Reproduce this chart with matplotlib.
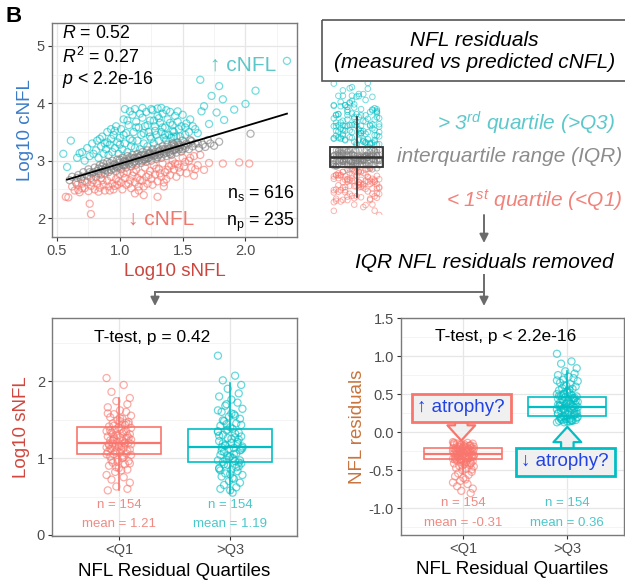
import numpy as np
import matplotlib
matplotlib.use("Agg")
import matplotlib.pyplot as plt
from matplotlib.patches import Rectangle, FancyArrowPatch
from matplotlib.ticker import MultipleLocator, FormatStrFormatter

plt.rcParams.update({
    'font.family': ['Liberation Sans', 'DejaVu Sans'],
    'mathtext.fontset': 'custom',
    'mathtext.rm': 'Liberation Sans',
    'mathtext.it': 'Liberation Sans:italic',
    'mathtext.bf': 'Liberation Sans:bold',
})

# ---- data ----
TEAL_X = [2.33, 1.64, 1.79, 2.08, 1.73, 1.82, 2.00, 1.91, 1.67, 1.77, 1.65, 1.71, 1.83, 0.61, 0.55, 0.58, 1.04, 1.30, 0.68,
          0.66, 0.70, 0.72, 0.74, 0.76, 0.78, 0.79,
          0.81, 0.82, 0.83, 0.85, 0.86, 0.87, 0.88, 0.89, 0.90,
          0.91, 0.92, 0.93, 0.94, 0.95, 0.96, 0.97, 0.98, 0.99, 1.00,
          1.01, 1.02, 1.03, 1.04, 1.05, 1.06, 1.07, 1.08, 1.09, 1.10,
          1.11, 1.12, 1.13, 1.14, 1.15, 1.16, 1.17, 1.18, 1.19, 1.20,
          1.21, 1.22, 1.23, 1.24, 1.25, 1.26, 1.27, 1.28, 1.29, 1.30,
          1.31, 1.32, 1.33, 1.34, 1.35, 1.36, 1.37, 1.38, 1.39, 1.40,
          1.41, 1.42, 1.43, 1.44, 1.45, 1.46, 1.47, 1.48, 1.50,
          1.52, 1.53, 1.55, 1.56, 1.58, 1.60, 1.62,
          0.84, 0.90, 0.96, 1.00, 1.03, 1.06, 1.10, 1.13, 1.16, 1.19, 1.22, 1.25, 1.28, 1.31, 1.34,
          1.37, 1.40, 1.43, 1.46, 1.49, 1.18, 1.24, 1.33, 1.42, 1.08, 0.93, 1.52, 1.36, 1.27, 1.12]
TEAL_Y = [4.74, 4.41, 4.30, 4.22, 4.13, 4.07, 3.99, 3.89, 3.95, 3.84, 3.86, 3.64, 3.71, 3.35, 3.12, 2.89, 3.90, 3.91, 3.13,
          3.05, 3.15, 3.00, 3.22, 3.08, 3.30, 3.12,
          3.18, 3.35, 3.05, 3.25, 3.42, 3.12, 3.30, 3.20, 3.50,
          3.10, 3.28, 3.38, 3.15, 3.45, 3.22, 3.60, 3.32, 3.12, 3.40,
          3.55, 3.20, 3.72, 3.30, 3.48, 3.15, 3.62, 3.38, 3.25, 3.80,
          3.50, 3.22, 3.68, 3.35, 3.58, 3.20, 3.45, 3.75, 3.30, 3.60,
          3.85, 3.25, 3.50, 3.70, 3.38, 3.88, 3.30, 3.60, 3.45, 3.78,
          3.35, 3.66, 3.50, 3.82, 3.40, 3.58, 3.36, 3.72, 3.45, 3.85,
          3.40, 3.62, 3.50, 3.78, 3.42, 3.68, 3.55, 3.42, 3.80,
          3.45, 3.65, 3.50, 3.72, 3.60, 3.55, 3.48,
          3.38, 3.32, 3.52, 3.28, 3.45, 3.70, 3.35, 3.58, 3.82, 3.48, 3.62, 3.90, 3.52, 3.74, 3.58,
          3.88, 3.66, 3.42, 3.86, 3.60, 3.92, 3.42, 3.92, 3.52, 3.86, 3.55, 3.58, 3.45, 3.70, 3.90]

GRAY_X = [0.60, 0.62, 0.65, 0.67, 0.69, 0.71, 0.72, 0.74, 0.75, 0.77, 0.78, 0.80, 0.81, 0.82, 0.84, 0.85, 0.86, 0.87,
          0.88, 0.89, 0.90, 0.91, 0.92, 0.93, 0.94, 0.95, 0.96, 0.97, 0.98, 0.99, 1.00, 1.01, 1.02, 1.03, 1.04, 1.05,
          1.06, 1.07, 1.08, 1.09, 1.10, 1.11, 1.12, 1.13, 1.14, 1.15, 1.16, 1.17, 1.18, 1.19, 1.20, 1.21, 1.22, 1.23,
          1.24, 1.25, 1.26, 1.27, 1.28, 1.29, 1.30, 1.31, 1.32, 1.33, 1.34, 1.35, 1.36, 1.37, 1.38, 1.39, 1.40, 1.41,
          1.42, 1.43, 1.44, 1.45, 1.46, 1.47, 1.48, 1.49, 1.50, 1.52, 1.53, 1.55, 1.57, 1.58, 1.60, 1.63, 1.66, 1.68,
          1.72, 1.75, 1.79, 2.04,
          0.83, 0.95, 1.05, 1.10, 1.15, 1.20, 1.25, 1.30, 1.35, 1.40, 1.45, 1.50, 0.88, 0.98, 1.08, 1.18, 1.28, 1.38,
          1.48, 0.76, 0.92, 1.02, 1.12, 1.22, 1.32, 1.42,
          0.70, 0.79, 0.86, 0.90, 0.97, 1.00, 1.04, 1.07, 1.11, 1.14, 1.17, 1.21, 1.24, 1.27, 1.31, 1.34, 1.37, 1.41,
          1.44, 1.47, 1.51, 1.54, 1.56, 1.62, 1.70, 0.66, 0.83, 1.03, 1.23, 1.43]
GRAY_Y = [2.66, 2.72, 2.62, 2.75, 2.68, 2.80, 2.65, 2.74, 2.85, 2.70, 2.78, 2.88, 2.72, 2.82, 2.92, 2.76, 2.85, 2.95,
          2.78, 2.88, 2.98, 2.80, 2.90, 2.84, 3.00, 2.86, 2.94, 2.82, 3.02, 2.90, 2.97, 2.85, 3.05, 2.92, 3.00, 2.88,
          3.08, 2.95, 3.02, 2.90, 3.10, 2.97, 3.05, 2.93, 3.12, 3.00, 3.08, 2.96, 3.15, 3.02, 3.10, 2.98, 3.18, 3.05,
          3.12, 3.00, 3.20, 3.08, 3.15, 3.03, 3.22, 3.10, 3.18, 3.05, 3.25, 3.12, 3.20, 3.08, 3.28, 3.15, 3.22, 3.10,
          3.30, 3.18, 3.25, 3.14, 3.32, 3.20, 3.27, 3.16, 3.35, 3.22, 3.30, 3.20, 3.34, 3.25, 3.30, 3.22, 3.28, 3.24,
          3.30, 3.26, 3.33, 3.47,
          2.86, 2.92, 2.98, 2.94, 3.05, 3.02, 3.10, 3.06, 3.16, 3.12, 3.22, 3.20, 2.84, 2.88, 3.06, 3.00, 3.10, 3.20,
          3.24, 2.80, 2.96, 2.93, 2.99, 3.04, 3.12, 3.18,
          2.72, 2.80, 2.90, 2.83, 2.90, 3.02, 2.93, 3.00, 3.04, 3.06, 3.10, 3.06, 3.14, 3.12, 3.16, 3.20, 3.14, 3.26,
          3.20, 3.28, 3.26, 3.28, 3.36, 3.30, 3.36, 2.70, 2.78, 2.98, 3.12, 3.28]

RED_X = [2.03, 1.95, 1.82, 1.71, 1.64, 1.59, 1.67, 0.59, 0.57, 0.76, 0.77, 1.30, 1.35, 1.12, 1.19, 0.67,
         0.62, 0.64, 0.66, 0.68, 0.70, 0.72, 0.74, 0.75, 0.77, 0.79, 0.80, 0.82, 0.84, 0.85, 0.87, 0.88, 0.90,
         0.91, 0.93, 0.94, 0.95, 0.97, 0.98, 1.00, 1.01, 1.02, 1.04, 1.05, 1.06, 1.08, 1.09, 1.10, 1.12, 1.13,
         1.14, 1.15, 1.17, 1.18, 1.20, 1.21, 1.22, 1.24, 1.25, 1.27, 1.28, 1.30, 1.31, 1.33, 1.34, 1.36, 1.37,
         1.39, 1.40, 1.42, 1.43, 1.45, 1.46, 1.48, 1.50, 1.51, 1.53, 1.55, 1.57, 1.59, 1.62,
         0.70, 0.78, 0.86, 0.92, 0.99, 1.03, 1.07, 1.11, 1.16, 1.19, 1.23, 1.26, 1.29, 1.32, 1.35, 1.38,
         1.41, 1.44, 1.47, 1.52, 1.56, 1.60, 0.83, 0.96, 1.15]
RED_Y = [2.95, 2.97, 2.95, 2.96, 3.10, 2.74, 2.84, 2.36, 2.37, 2.25, 2.07, 2.37, 2.55, 2.43, 2.40, 2.49,
         2.55, 2.48, 2.58, 2.45, 2.60, 2.52, 2.62, 2.47, 2.56, 2.66, 2.50, 2.60, 2.53, 2.70, 2.58, 2.48, 2.65,
         2.55, 2.72, 2.60, 2.50, 2.68, 2.58, 2.76, 2.62, 2.50, 2.70, 2.58, 2.80, 2.66, 2.52, 2.74, 2.62, 2.84,
         2.70, 2.55, 2.78, 2.65, 2.88, 2.72, 2.60, 2.82, 2.68, 2.92, 2.76, 2.64, 2.86, 2.72, 2.95, 2.80, 2.68,
         2.90, 2.75, 3.00, 2.85, 2.72, 2.94, 2.80, 3.05, 2.90, 2.78, 3.00, 2.88, 3.08, 2.92,
         2.52, 2.62, 2.66, 2.48, 2.64, 2.78, 2.60, 2.80, 2.66, 2.55, 2.75, 2.58, 2.86, 2.78, 2.62, 2.84,
         2.92, 2.95, 2.88, 2.98, 3.05, 2.85, 2.46, 2.56, 2.48]

FIT_X = [0.58, 2.33]
FIT_Y = [2.67, 3.82]

GROUPS = ['<Q1', '>Q3']

SNFL_Q1 = [2.04, 1.95, 1.86, 1.78, 1.74, 1.70, 1.66, 1.62, 1.60, 1.57, 1.55, 1.53, 1.51, 1.49, 1.47, 1.45, 1.43,
           1.41, 1.40, 1.38, 1.37, 1.35, 1.34, 1.33, 1.31, 1.30, 1.29, 1.28, 1.27, 1.26, 1.25, 1.24, 1.23, 1.22,
           1.21, 1.20, 1.19, 1.19, 1.18, 1.17, 1.16, 1.15, 1.14, 1.13, 1.12, 1.11, 1.10, 1.09, 1.08, 1.07, 1.06,
           1.05, 1.04, 1.02, 1.00, 0.98, 0.96, 0.94, 0.92, 0.90, 0.87, 0.84, 0.82, 0.78, 0.75, 0.72, 0.68, 0.63,
           0.60, 0.58,
           1.52, 1.46, 1.42, 1.39, 1.36, 1.32, 1.29, 1.26, 1.23, 1.20, 1.17, 1.14, 1.11, 1.08, 1.05, 1.01,
           0.97, 0.93, 0.88, 0.85, 1.58, 1.48, 1.35, 1.27, 1.18, 1.12, 1.03, 0.95, 1.44, 1.31]
SNFL_Q3 = [2.33, 2.07, 2.01, 1.95, 1.90, 1.84, 1.80, 1.76, 1.72, 1.68, 1.64, 1.60, 1.57, 1.54, 1.51, 1.48, 1.45,
           1.42, 1.40, 1.38, 1.36, 1.34, 1.32, 1.30, 1.28, 1.26, 1.24, 1.22, 1.20, 1.18, 1.16, 1.15, 1.14, 1.13,
           1.12, 1.10, 1.08, 1.06, 1.04, 1.02, 1.00, 0.98, 0.97, 0.96, 0.95, 0.93, 0.91, 0.89, 0.87, 0.85, 0.83,
           0.80, 0.78, 0.76, 0.73, 0.70, 0.68, 0.65, 0.62, 0.60, 0.58, 0.55,
           1.70, 1.62, 1.55, 1.49, 1.43, 1.37, 1.33, 1.29, 1.25, 1.21, 1.17, 1.13, 1.09, 1.05, 1.01, 0.97,
           0.92, 0.88, 0.84, 0.79, 0.74, 1.44, 1.35, 1.27, 1.19, 1.11, 1.03, 0.94, 0.86, 1.58]
# box stats: q1, median, q3, whisker low, whisker high
SNFL_BOX = [(1.05, 1.19, 1.40, 0.58, 1.78), (0.95, 1.15, 1.38, 0.55, 1.98)]
SNFL_N = [154, 154]
SNFL_MEAN = [1.21, 1.19]

RES_Q1 = [-0.13, -0.14, -0.15, -0.15, -0.16, -0.17, -0.17, -0.18, -0.18, -0.19, -0.19, -0.20, -0.20, -0.21, -0.21,
          -0.22, -0.22, -0.23, -0.23, -0.24, -0.24, -0.25, -0.25, -0.26, -0.26, -0.27, -0.27, -0.28, -0.28, -0.29,
          -0.29, -0.30, -0.30, -0.31, -0.31, -0.32, -0.32, -0.33, -0.33, -0.34, -0.34, -0.35, -0.35, -0.36, -0.37,
          -0.38, -0.39, -0.40, -0.41, -0.42, -0.43, -0.44, -0.45, -0.47, -0.48, -0.50, -0.52, -0.54, -0.56, -0.58,
          -0.60, -0.62, -0.64, -0.66, -0.68, -0.71, -0.74, -0.77, -0.80,
          -0.14, -0.16, -0.18, -0.20, -0.22, -0.24, -0.26, -0.28, -0.30, -0.32, -0.34, -0.36, -0.38, -0.40, -0.17,
          -0.21, -0.25, -0.29, -0.33, -0.37, -0.41, -0.15, -0.19, -0.23, -0.27, -0.31, -0.35, -0.39, -0.44, -0.49]
RES_Q3 = [1.03, 0.93, 0.90, 0.84, 0.80, 0.77, 0.75, 0.73, 0.71, 0.69, 0.67, 0.65, 0.63, 0.61, 0.60, 0.58, 0.57,
          0.55, 0.54, 0.52, 0.51, 0.50, 0.49, 0.48, 0.47, 0.46, 0.45, 0.44, 0.43, 0.42, 0.41, 0.40, 0.39, 0.38,
          0.37, 0.36, 0.35, 0.34, 0.34, 0.33, 0.32, 0.31, 0.30, 0.29, 0.28, 0.27, 0.26, 0.25, 0.24, 0.23, 0.22,
          0.21, 0.20, 0.19, 0.18, 0.17, 0.16, 0.16, 0.15, 0.15, 0.14, 0.14, 0.13, 0.13,
          0.15, 0.17, 0.19, 0.21, 0.23, 0.25, 0.27, 0.29, 0.31, 0.33, 0.35, 0.37, 0.39, 0.41, 0.43, 0.45,
          0.48, 0.52, 0.56, 0.62, 0.68, 0.16, 0.20, 0.24, 0.28, 0.32, 0.36, 0.40, 0.44, 0.50]
RES_BOX = [(-0.355, -0.28, -0.21, -0.55, -0.13), (0.21, 0.33, 0.46, 0.13, 0.80)]
RES_N = [154, 154]
RES_MEAN = [-0.31, 0.36]

MINI_BOX = (-0.13, 0.0, 0.13, -0.5, 0.5)

# ---- style ----
RED = '#F8766D'
TEAL = '#00BFC4'
GRAY = '#7f7f7f'
JIT = np.array([-0.10, 0.04, -0.06, 0.09, -0.02, 0.07, -0.09, 0.01, 0.06, -0.04, 0.10,
                -0.07, 0.03, -0.01, 0.08, -0.05, 0.05, -0.08, 0.00, 0.02, -0.03])

W, H = 625, 586
fig = plt.figure(figsize=(W / 100, H / 100), dpi=100)


def px_axes(l, t, r, b):
    return fig.add_axes([l / W, 1 - b / H, (r - l) / W, (b - t) / H])


def style_axes(ax):
    ax.set_facecolor('white')
    for s in ax.spines.values():
        s.set_color('#7a7a7a')
        s.set_linewidth(1.0)
    ax.grid(True, which='major', color='#e6e6e6', lw=0.9)
    ax.grid(True, which='minor', color='#f2f2f2', lw=0.6)
    ax.set_axisbelow(True)
    ax.tick_params(which='major', labelsize=10.5, labelcolor='#4d4d4d', color='#333333', length=3, pad=2)
    ax.tick_params(which='minor', length=0)


def strip_box(ax, values, boxes, jscale):
    for i, (vals, st, col) in enumerate(zip(values, boxes, [RED, TEAL])):
        xs = i + 1 + np.resize(JIT, len(vals)) * jscale
        ax.bxp([dict(q1=st[0], med=st[1], q3=st[2], whislo=st[3], whishi=st[4])], positions=[i + 1],
               widths=0.75, showfliers=False, showcaps=False, patch_artist=True,
               boxprops=dict(facecolor='none', edgecolor=col, lw=1.2),
               medianprops=dict(color=col, lw=1.6), whiskerprops=dict(color=col, lw=1.2))
        ax.scatter(xs, vals, s=26, facecolors='none', edgecolors=col, linewidths=0.9, alpha=0.6, zorder=3)


# overlay for diagram elements
ov = fig.add_axes([0, 0, 1, 1])
ov.set_xlim(0, W)
ov.set_ylim(H, 0)
ov.axis('off')

# ---- scatter ----
ax = px_axes(52, 23, 297, 237)
style_axes(ax)
ax.scatter(TEAL_X, TEAL_Y, s=26, facecolors='none', edgecolors=TEAL, linewidths=0.9, alpha=0.55)
ax.scatter(GRAY_X, GRAY_Y, s=26, facecolors='none', edgecolors=GRAY, linewidths=0.9, alpha=0.6)
ax.scatter(RED_X, RED_Y, s=26, facecolors='none', edgecolors=RED, linewidths=0.9, alpha=0.6)
ax.plot(FIT_X, FIT_Y, color='black', lw=1.3)
ax.set_xlim(0.46, 2.41)
ax.set_ylim(1.67, 5.40)
ax.xaxis.set_minor_locator(MultipleLocator(0.25))
ax.yaxis.set_major_locator(MultipleLocator(1))
ax.yaxis.set_minor_locator(MultipleLocator(0.5))
ax.set_xticks([0.5, 1.0, 1.5, 2.0], ['0.5', '1.0', '1.5', '2.0'])
ax.set_ylabel('Log10 cNFL', color='#3a7cc9', fontsize=13.5, labelpad=2)
ax.set_xlabel('Log10 sNFL', color='#c9473e', fontsize=13.5, labelpad=4)
ax.text(0.04, 0.953, r'$R$ = 0.52', transform=ax.transAxes, fontsize=12.8, va='center')
ax.text(0.04, 0.841, r'$R^2$ = 0.27', transform=ax.transAxes, fontsize=12.8, va='center')
ax.text(0.04, 0.734, r'$p$ < 2.2e-16', transform=ax.transAxes, fontsize=12.8, va='center')
ax.text(0.78, 0.804, '↑ cNFL', transform=ax.transAxes, fontsize=15, color='#5cc6c9', ha='center', va='center')
ax.text(0.445, 0.084, '↓ cNFL', transform=ax.transAxes, fontsize=15, color='#f0776e', ha='center', va='center')
ax.text(0.992, 0.206, r'n$_{\rm s}$ = 616', transform=ax.transAxes, fontsize=12.8, ha='right', va='center')
ax.text(0.992, 0.07, r'n$_{\rm p}$ = 235', transform=ax.transAxes, fontsize=12.8, ha='right', va='center')

fig.text(6 / W, 1 - 16 / H, 'B', fontsize=16, fontweight='bold', va='center')

# ---- mini residual boxplot ----
mini = px_axes(325, 82, 388, 215)
mini.axis('off')
slope, icpt = np.polyfit(FIT_X, FIT_Y, 1)
for xs, ys, col in [(GRAY_X, GRAY_Y, GRAY), (TEAL_X, TEAL_Y, TEAL), (RED_X, RED_Y, RED)]:
    res = np.array(ys) - (icpt + slope * np.array(xs))
    jx = np.resize(JIT, len(res)) * 3.6
    mini.scatter(jx, res, s=16, facecolors='none', edgecolors=col, linewidths=0.7, alpha=0.55)
mini.bxp([dict(q1=MINI_BOX[0], med=MINI_BOX[1], q3=MINI_BOX[2], whislo=MINI_BOX[3], whishi=MINI_BOX[4])],
         positions=[0], widths=0.83, showfliers=False, showcaps=False, patch_artist=True,
         boxprops=dict(facecolor='none', edgecolor='#333333', lw=1.3),
         medianprops=dict(color='#333333', lw=1.8), whiskerprops=dict(color='#333333', lw=1.2))
mini.set_xlim(-0.5, 0.5)
mini.set_ylim(-0.725, 0.94)

# ---- diagram texts ----
ov.add_patch(Rectangle((322, 20), 310, 61, fill=False, edgecolor='#555555', lw=1.2))
ov.text(474, 40, 'NFL residuals', fontsize=15, style='italic', ha='center', va='center')
ov.text(475, 62, '(measured vs predicted cNFL)', fontsize=15, style='italic', ha='center', va='center')
ov.text(615, 123, r'> 3$^{rd}$ quartile (>Q3)', fontsize=15, style='italic', ha='right', va='center', color='#5cc8cb')
ov.text(622, 157, 'interquartile range (IQR)', fontsize=15, style='italic', ha='right', va='center', color='#8c8c8c')
ov.text(622, 200, r'< 1$^{st}$ quartile (<Q1)', fontsize=15, style='italic', ha='right', va='center', color='#f0827a')
arrow_kw = dict(arrowstyle='-|>', color='#6b6b6b', lw=1.4, mutation_scale=13, shrinkA=0, shrinkB=0)
ov.annotate('', xy=(484, 243), xytext=(484, 215), arrowprops=arrow_kw)
ov.text(484, 263, 'IQR NFL residuals removed', fontsize=15, style='italic', ha='center', va='center')
ov.plot([484, 484], [275, 292], color='#6b6b6b', lw=1.4)
ov.plot([155, 484], [292, 292], color='#6b6b6b', lw=1.4)
ov.annotate('', xy=(155, 306), xytext=(155, 292), arrowprops=arrow_kw)
ov.annotate('', xy=(484, 306), xytext=(484, 292), arrowprops=arrow_kw)

# ---- bottom left ----
bl = px_axes(52, 318, 297, 536)
style_axes(bl)
strip_box(bl, [SNFL_Q1, SNFL_Q3], SNFL_BOX, 1.1)
bl.set_xlim(0.4, 2.6)
bl.set_ylim(-0.013, 2.82)
bl.set_xticks([1, 2], GROUPS)
bl.yaxis.set_major_locator(MultipleLocator(1))
bl.yaxis.set_minor_locator(MultipleLocator(0.5))
bl.set_ylabel('Log10 sNFL', color='#d0473e', fontsize=13.5, labelpad=5)
bl.set_xlabel('NFL Residual Quartiles', fontsize=13.5, labelpad=4)
bl.text(1.3, 2.57, 'T-test, p = 0.42', fontsize=12.5, ha='center', va='center')
for i, col in enumerate(['#ef8a82', '#4cc7c9']):
    bl.text(i + 1, 0.39, f'n = {SNFL_N[i]}', fontsize=9.5, color=col, ha='center', va='center')
    bl.text(i + 1, 0.14, f'mean = {SNFL_MEAN[i]:.2f}', fontsize=9.5, color=col, ha='center', va='center')

# ---- bottom right ----
br = px_axes(401, 318, 624, 535)
style_axes(br)
strip_box(br, [RES_Q1, RES_Q3], RES_BOX, 1.0)
br.set_xlim(0.4, 2.545)
br.set_ylim(-1.35, 1.5)
br.set_xticks([1, 2], GROUPS)
br.yaxis.set_major_locator(MultipleLocator(0.5))
br.yaxis.set_minor_locator(MultipleLocator(0.25))
br.yaxis.set_major_formatter(FormatStrFormatter('%.1f'))
br.set_ylabel('NFL residuals', color='#c8743d', fontsize=13.5, labelpad=2)
br.set_xlabel('NFL Residual Quartiles', fontsize=13.5, labelpad=4)
br.text(1.405, 1.26, 'T-test, p < 2.2e-16', fontsize=12.5, ha='center', va='center')
for i, col in enumerate(['#ef8a82', '#4cc7c9']):
    br.text(i + 1, -0.93, f'n = {RES_N[i]}', fontsize=9.5, color=col, ha='center', va='center')
    br.text(i + 1, -1.19, f'mean = {RES_MEAN[i]:.2f}', fontsize=9.5, color=col, ha='center', va='center')

# atrophy call-outs
for (x0, y0, x1, y1, tx, ty, label, col) in [(0.98, 0.14, 0.98, -0.11, 0.98, 0.32, '↑ atrophy?', RED),
                                              (2.0, -0.22, 2.0, 0.07, 1.98, -0.39, '↓ atrophy?', TEAL)]:
    br.add_patch(FancyArrowPatch((x0, y0), (x1, y1),
                                 arrowstyle='simple,head_length=0.55,head_width=1.0,tail_width=0.45',
                                 mutation_scale=20, facecolor='#f0f0f0', edgecolor=col, lw=1.6,
                                 shrinkA=0, shrinkB=0, zorder=5))
    br.text(tx, ty, label, fontsize=13.5, color='#2142e6', ha='center', va='center', zorder=6,
            bbox=dict(boxstyle='square,pad=0.3', facecolor='#f0f0f0', edgecolor=col, lw=2))

fig.savefig('out.png', dpi=100)
